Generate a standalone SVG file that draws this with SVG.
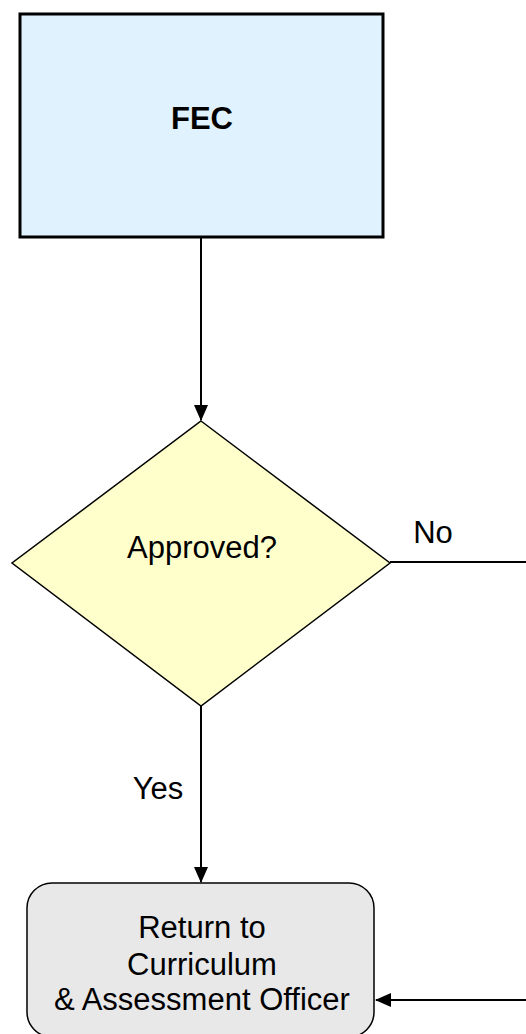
<svg xmlns="http://www.w3.org/2000/svg" width="526" height="1034" viewBox="0 0 526 1034">
<defs>
<style>
.lbl{font-family:"Liberation Sans",Arial,sans-serif;font-size:31px;fill:#000;text-anchor:middle}
.edge{stroke:#000;stroke-width:2;fill:none}
</style>
<marker id="arr" markerWidth="16" markerHeight="14" refX="15" refY="7" orient="auto" markerUnits="userSpaceOnUse">
<path d="M0,0 L16,7 L0,14 Z" fill="#000"/>
</marker>
</defs>
<rect width="526" height="1034" fill="#fff"/>
<g id="connectors">
<line class="edge" x1="201" y1="237" x2="201" y2="420" marker-end="url(#arr)"/>
<line class="edge" x1="201" y1="706" x2="201" y2="882" marker-end="url(#arr)"/>
<line class="edge" x1="390" y1="562" x2="526" y2="562"/>
<line class="edge" x1="526" y1="1000" x2="376" y2="1000" marker-end="url(#arr)"/>
<text class="lbl" x="433" y="543" font-size="29">No</text>
<text class="lbl" x="158" y="799" font-size="29">Yes</text>
</g>
<g id="fec">
<rect x="20" y="14" width="363" height="223" fill="#E0F2FD" stroke="#000" stroke-width="3"/>
<text class="lbl" x="202" y="129" font-weight="bold" font-size="30">FEC</text>
</g>
<g id="approved">
<polygon points="201,421 390,563 201,706 12,563" fill="#FFFFCC" stroke="#000" stroke-width="1.5"/>
<text class="lbl" x="202" y="558">Approved?</text>
</g>
<g id="return">
<rect x="27" y="883" width="347" height="154" rx="25" ry="25" fill="#E8E8E8" stroke="#000" stroke-width="1.5"/>
<text class="lbl" x="202" y="938">Return to</text>
<text class="lbl" x="202" y="975">Curriculum</text>
<text class="lbl" x="202" y="1010">&amp; Assessment Officer</text>
</g>
</svg>
